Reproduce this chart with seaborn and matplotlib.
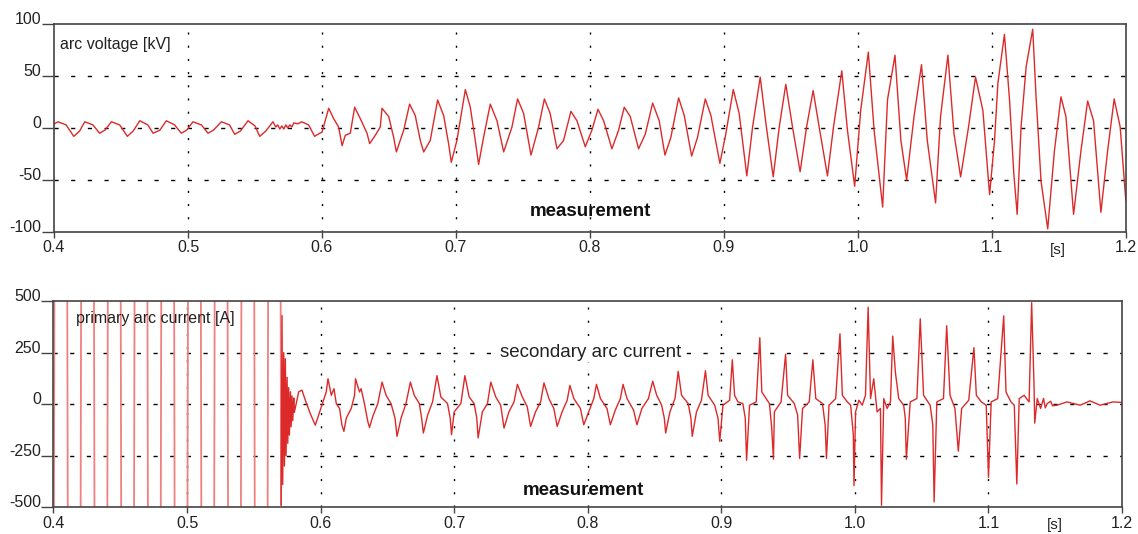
import numpy as np
import pandas as pd
import seaborn as sns
import matplotlib.pyplot as plt

# arc voltage [s], [kV]
volt_t = [
    0.400, 0.403, 0.409, 0.4147, 0.419, 0.4229, 0.429, 0.434, 0.438, 0.4428,
    0.449, 0.4547, 0.459, 0.464, 0.470, 0.4739, 0.479, 0.4838, 0.490, 0.495,
    0.499, 0.5037, 0.510, 0.5149, 0.519, 0.5249, 0.531, 0.5348, 0.539, 0.5448,
    0.550, 0.5535, 0.558, 0.5634, 0.5655, 0.567, 0.5685, 0.570, 0.5715, 0.573,
    0.5745, 0.576, 0.5775, 0.579, 0.582, 0.5848, 0.590, 0.5945, 0.5983, 0.600,
    0.605, 0.6087, 0.6124, 0.615, 0.6174, 0.6211, 0.6244, 0.6286, 0.6336, 0.6356,
    0.6398, 0.6435, 0.6448, 0.6498, 0.6535, 0.6555, 0.661, 0.6654, 0.6696, 0.6734,
    0.6759, 0.6808, 0.6863, 0.6908, 0.6945, 0.6965, 0.7007, 0.707, 0.7107, 0.7144,
    0.7169, 0.7206, 0.7256, 0.7306, 0.7356, 0.7418, 0.746, 0.7505, 0.756, 0.7617,
    0.766, 0.7703, 0.7754, 0.7803, 0.7858, 0.7903, 0.7965, 0.8015, 0.806, 0.8102,
    0.8164, 0.8214, 0.8256, 0.8301, 0.8363, 0.8413,
    0.8468, 0.8517, 0.856, 0.8604, 0.8662, 0.8704, 0.8759, 0.8803, 0.8861, 0.8903,
    0.897, 0.9015, 0.907, 0.9114, 0.9171, 0.9214, 0.9271, 0.9314, 0.9368, 0.9413,
    0.9462, 0.9512, 0.9569, 0.9617, 0.9666, 0.9711, 0.9773, 0.9818, 0.988, 0.9922,
    0.9976, 1.0021, 1.0078, 1.0121, 1.0185, 1.0221, 1.0277, 1.0321, 1.0364, 1.0419,
    1.0475, 1.0518, 1.058, 1.0617, 1.0672, 1.0717, 1.0767, 1.0826, 1.0878, 1.0933,
    1.0983, 1.102, 1.1045, 1.1094, 1.1132, 1.1164, 1.1189, 1.1218, 1.1256, 1.1305,
    1.133, 1.1367, 1.1417, 1.1467, 1.1516, 1.1553, 1.161, 1.1665, 1.1715, 1.1759,
    1.1814, 1.1864, 1.1913, 1.1958, 1.200,
]
volt_kv = [
    4, 6, 3, -8, -3, 6, 3, -5, -2, 6,
    3, -8, -3, 7, 3, -5, -2, 7, 3, -5,
    -2, 6, 3, -5, -2, 6, 3, -6, -3, 7,
    2, -8, -3, 6, 1, 3, -1, 2, -1, 3,
    0, 3, 1, 5, 4, 6, 3, -8, -5, -4,
    19, 9, 1, -17, -7, -5, 20, 9, -5, -15,
    -7, 1, 19, 11, -9, -23, -2, 23, 12, -12,
    -23, -12, 27, 12, -15, -33, -12, 37, 20, -12,
    -35, -9, 23, 7, -23, 1, 28, 14, -26, 1,
    28, 14, -20, -12, 16, 7, -18, -2, 18, 7,
    -20, -2, 20, 11, -20, -6,
    24, 7, -26, -9, 29, 12, -27, -9, 28, 12,
    -34, -5, 37, 14, -46, 1, 49, 4, -47, 1,
    42, 1, -42, 1, 36, 1, -46, 1, 55, -2,
    -56, 17, 73, -2, -76, 27, 70, -12, -50, 11,
    61, -12, -72, 11, 70, -5, -47, 1, 49, 17,
    -64, -12, 43, 90, 27, -44, -83, 1, 59, 95,
    30, -51, -97, -22, 30, 11, -83, -22, 26, 7,
    -81, -22, 28, 1, -70,
]

# primary arc current: huge 50 Hz swing, only its zero crossings show (peaks estimated)
prim_t = [0.3955, 0.4055, 0.4155, 0.4255, 0.4355, 0.4455, 0.4555, 0.4655, 0.4755,
          0.4855, 0.4955, 0.5055, 0.5155, 0.5255, 0.5355, 0.5455, 0.5555, 0.5655,
          0.5704]
prim_a = [-15000, 15000, -15000, 15000, -15000, 15000, -15000, 15000, -15000,
          15000, -15000, 15000, -15000, 15000, -15000, 15000, -15000, 15000,
          -490]

# secondary arc current [s], [A]
sec_t = [
    0.5704, 0.5711, 0.5716, 0.5724, 0.5729, 0.5736, 0.5741, 0.5749, 0.5754, 0.5761,
    0.5766, 0.5774, 0.5779, 0.5786, 0.5791, 0.5799, 0.5803, 0.5836, 0.586, 0.5885,
    0.5922, 0.596, 0.5985,
    0.6042, 0.6055, 0.608, 0.61, 0.6117, 0.6142, 0.6159, 0.6174, 0.6192, 0.6229,
    0.6254, 0.6261, 0.6291, 0.6303, 0.6328, 0.6353, 0.6366, 0.639, 0.6428, 0.646,
    0.649, 0.6527, 0.6557, 0.6572, 0.6602, 0.6639, 0.6672, 0.6701, 0.6739, 0.6756,
    0.6769, 0.6801, 0.6838, 0.6871, 0.69, 0.695, 0.697, 0.698, 0.7, 0.705,
    0.708, 0.7112, 0.7149, 0.7169, 0.7179, 0.7211, 0.7249, 0.7274, 0.7311, 0.7348,
    0.7373, 0.741, 0.7448, 0.7473, 0.751, 0.7547, 0.7572, 0.7609, 0.7647, 0.7672,
    0.7709, 0.7746, 0.7771, 0.7808, 0.7846, 0.7866, 0.7896, 0.7945, 0.797, 0.8007,
    0.8045, 0.8065, 0.8095, 0.8144, 0.8169, 0.8206, 0.8244, 0.8264, 0.8294, 0.8343,
    0.8368, 0.8405, 0.8454, 0.8486, 0.8516, 0.8553, 0.8573, 0.8583, 0.8615, 0.8653,
    0.8677, 0.8702, 0.8752, 0.8772, 0.8782, 0.8814, 0.8851, 0.8881, 0.8901, 0.895,
    0.8975, 0.8988, 0.9012, 0.9062, 0.9082, 0.9099, 0.9124, 0.9161, 0.9179, 0.9189,
    0.9211, 0.9261, 0.9288, 0.9303, 0.9335, 0.936, 0.9377, 0.939, 0.9397, 0.9447,
    0.9481, 0.9496, 0.9546, 0.9571, 0.9586, 0.9608, 0.9658, 0.9685, 0.9707, 0.9757,
    0.9777, 0.9787, 0.9806, 0.9856, 0.9888, 0.9906, 0.9943, 0.9968, 0.9988, 0.9993,
    1.0005, 1.003, 1.0055, 1.0079, 1.0099, 1.0117, 1.0141, 1.0166, 1.0191, 1.0199,
    1.0216, 1.0241, 1.0266, 1.0283, 1.0303, 1.0328, 1.0365, 1.0377, 1.0385, 1.0414,
    1.0464, 1.0489, 1.0514, 1.0563, 1.0583, 1.0593, 1.0613, 1.0663, 1.0687, 1.0712,
    1.0749, 1.0774, 1.0799, 1.0852, 1.0891, 1.0909, 1.0946, 1.0983, 1.100, 1.102,
    1.1069, 1.1114, 1.1131, 1.1168, 1.1193, 1.1212, 1.123, 1.1267, 1.1304, 1.1323,
    1.1341, 1.1346, 1.1365, 1.139, 1.1412, 1.1425, 1.144, 1.1465, 1.148, 1.1514,
    1.1588, 1.1686, 1.176, 1.1835, 1.1933, 1.200,
]
sec_a = [
    -490, 430, -390, 250, -300, 220, -250, 130, -190, 80,
    -150, 60, -110, 40, -80, 30, -40, 60, 68, 20,
    -45, -102, -53,
    59, 123, 43, 75, 3, -21, -100, -132, -68, -21,
    43, 123, 59, 75, 3, -84, -113, -60, 3, 107,
    43, 3, -68, -156, -68, 3, 107, 43, 3, -68,
    -140, -53, 11, 138, 35, 3, -68, -148, -37, 3,
    138, 35, 3, -68, -164, -37, 3, 107, 35, -5,
    -116, -37, 11, 96, 35, -13, -108, -37, 11, 103,
    27, -21, -108, -37, 19, 91, 27, -21, -100, -37,
    27, 96, 27, -21, -100, -29, 27, 96, 27, -29,
    -100, -21, 27, 111, 43, -5, -68, -140, -37, 27,
    159, 43, 3, -68, -156, -37, 19, 162, 43, -5,
    -68, -180, -5, 19, 215, 43, 11, 3, -68, -272,
    -5, 11, 322, 59, 27, 3, -116, -267, -37, 11,
    242, 43, 3, -53, -263, -21, 11, 215, 27, 3,
    -100, -263, -5, 27, 341, 43, 11, -5, -148, -395,
    -37, 19, -5, 43, 470, 27, 123, -37, -21, -490,
    27, -21, 11, 330, 154, 27, -5, -68, -267, 11,
    27, 414, 43, -5, -100, -474, 11, 27, 380, 43,
    -21, -228, -21, 19, 274, 43, 11, -5, -355, 11,
    27, 428, 59, 11, -5, -387, 27, 43, 11, 492,
    91, -92, 27, -21, 28, -18, 3, 14, -8, -5,
    11, -5, 16, -5, 11, 8,
]

x_ticks = [0.4, 0.5, 0.6, 0.7, 0.8, 0.9, 1.0, 1.1, 1.2]
x_labels = ['0.4', '0.5', '0.6', '0.7', '0.8', '0.9', '1.0', '1.1', '1.2']
v_ticks = [-100, -50, 0, 50, 100]
a_ticks = [-500, -250, 0, 250, 500]

sns.set_theme(style='white')
plt.rcParams['font.family'] = ['Liberation Sans', 'DejaVu Sans']
plt.rcParams['axes.unicode_minus'] = False

fig = plt.figure(figsize=(11.38, 5.34), dpi=100)
ax1 = fig.add_axes([0.0475, 0.5655, 0.9418, 0.3895])
ax2 = fig.add_axes([0.0470, 0.0500, 0.9390, 0.3863])

red = '#dc2a2a'
sns.lineplot(x=volt_t, y=volt_kv, ax=ax1, color=red, linewidth=1.0,
             estimator=None, sort=False)
sns.lineplot(x=prim_t, y=prim_a, ax=ax2, color='#f08080', linewidth=1.3,
             estimator=None, sort=False)
sns.lineplot(x=sec_t, y=sec_a, ax=ax2, color=red, linewidth=1.0,
             estimator=None, sort=False)

for ax, yt in [(ax1, v_ticks), (ax2, a_ticks)]:
    ax.set_xlim(0.4, 1.2)
    ax.set_ylim(yt[0], yt[-1])
    ax.set_xticks(x_ticks)
    ax.set_xticklabels(x_labels)
    ax.set_yticks(yt)
    ax.set_xlabel('')
    ax.set_ylabel('')
    ax.set_facecolor('white')
    for sp in ax.spines.values():
        sp.set_color('#444444')
        sp.set_linewidth(1.2)
    ax.tick_params(axis='x', direction='out', length=4, width=1, color='#444444',
                   labelsize=11.5, labelcolor='#222222', pad=2, bottom=True)
    ax.tick_params(axis='y', direction='out', length=9, width=1, color='#444444',
                   labelsize=11.5, labelcolor='#222222', pad=0, left=True)
    for lab in ax.get_yticklabels():
        lab.set_verticalalignment('baseline')
    for xv in x_ticks[1:-1]:
        ax.axvline(xv, color='black', linewidth=1.0, linestyle=(0, (1.5, 8)), zorder=0)
    for yv in yt[1:-1]:
        ax.axhline(yv, color='black', linewidth=1.0, linestyle=(0, (3, 9)), zorder=0)

ax1.text(0.006, 0.90, 'arc voltage [kV]', transform=ax1.transAxes,
         fontsize=11.5, color='#222222', va='center', ha='left')
ax1.text(0.50, 0.10, 'measurement', transform=ax1.transAxes,
         fontsize=13.5, fontweight='bold', color='#111111', va='center', ha='center')
ax1.text(0.9366, -0.087, '[s]', transform=ax1.transAxes,
         fontsize=11, color='#222222', va='center', ha='center')

ax2.text(0.021, 0.917, 'primary arc current [A]', transform=ax2.transAxes,
         fontsize=11.5, color='#222222', va='center', ha='left')
ax2.text(0.503, 0.752, 'secondary arc current', transform=ax2.transAxes,
         fontsize=13.5, color='#222222', va='center', ha='center',
         bbox=dict(facecolor='white', edgecolor='none', pad=1))
ax2.text(0.4955, 0.083, 'measurement', transform=ax2.transAxes,
         fontsize=13.5, fontweight='bold', color='#111111', va='center', ha='center')
ax2.text(0.937, -0.087, '[s]', transform=ax2.transAxes,
         fontsize=11, color='#222222', va='center', ha='center')

fig.savefig('out.png', dpi=100, facecolor='white')
